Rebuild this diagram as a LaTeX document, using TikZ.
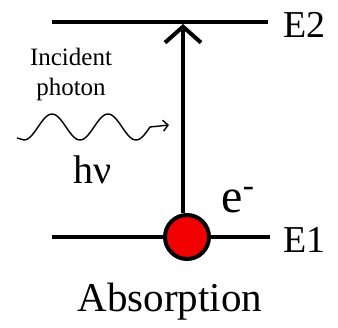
\documentclass[tikz,border=0pt]{standalone}
\usepackage{fontspec}
\setmainfont{Liberation Serif}
\usetikzlibrary{arrows.meta,positioning}

\begin{document}
\begin{tikzpicture}[
  x=1pt,y=-1pt,
  level/.style={line width=4.5pt},
  lbl/.style={font=\fontsize{38}{40}\selectfont,anchor=west,inner sep=0pt},
  arr/.style={-{Straight Barb[length=16pt,width=36pt]},line width=4pt},
  electron/.style={circle,draw,fill=red!95!black,line width=4pt,minimum size=44pt,inner sep=0pt}
]
  \useasboundingbox (0,0) rectangle (338,328);

  % Energy levels
  \coordinate (e2l) at (52,22);
  \coordinate (e2r) at (268,22);
  \coordinate (e1l) at (52,237);
  \coordinate (e1r) at (270,237);
  \draw[level] (e2l) -- (e2r);
  \draw[level] (e1l) -- (e1r);
  \node[lbl] (E2) at (283,25) {E2};
  \node[lbl] (E1) at (283,240) {E1};

  % Electron and transition
  \node[electron] (el) at (187,237) {};
  \coordinate (top) at (183,24);
  \draw[arr] (el.north -| top) -- (top);
  \node[font=\fontsize{48}{50}\selectfont,inner sep=0pt] (em) at (238,200) {e\raisebox{0.3ex}{\textsuperscript{-}}};

  % Photon
  \node[font=\fontsize{25}{30}\selectfont,align=center,inner sep=0pt] (inc) at (71,74) {Incident\\photon};
  \coordinate (wend) at (169,125);
  \draw[line width=1.4pt,-{Straight Barb[length=5pt,width=11pt]}]
    (17,138) -- plot[domain=24:150,samples=80,smooth] (\x,{127+13*cos(6.4286*(\x-24))}) -- (wend);
  \node[font=\fontsize{40}{42}\selectfont,inner sep=0pt] (hv) at (93,170) {hν};

  \node[font=\fontsize{41}{44}\selectfont,inner sep=0pt] (abs) at (170,302) {Absorption};
\end{tikzpicture}
\end{document}
